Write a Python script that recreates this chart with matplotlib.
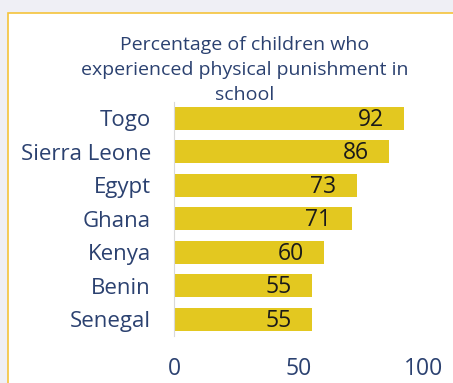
import matplotlib.pyplot as plt
from matplotlib.patches import Rectangle

countries = ["Togo", "Sierra Leone", "Egypt", "Ghana", "Kenya", "Benin", "Senegal"]
percent = [92, 86, 73, 71, 60, 55, 55]
ticks = [0, 50, 100]
title = "Percentage of children who\nexperienced physical punishment in\nschool"

navy = "#2b4170"
bar_color = "#e3c820"

plt.rcParams['font.family'] = ['Open Sans', 'DejaVu Sans']

fig = plt.figure(figsize=(4.53, 3.83), dpi=100)
fig.patch.set_facecolor("#efeff5")

# white card with a thin amber border, kept behind the axes
fig.add_artist(Rectangle((8 / 453, -0.1), 1.2, (383 - 13) / 383 + 0.1,
                         transform=fig.transFigure, facecolor="white",
                         edgecolor="#f5c33b", linewidth=1.2, zorder=-1))

ax = fig.add_axes([174 / 453, 47 / 383, 250 / 453, 234 / 383])
ax.set_facecolor("none")
y = list(range(len(countries)))
bars = ax.barh(y, percent, height=0.69, color=bar_color)
ax.set_xlim(0, 100)
ax.set_ylim(len(countries) - 0.5, -0.49)

for b, v in zip(bars, percent):
    ax.text(v - 8, b.get_y() + b.get_height() / 2 + 0.04, str(v),
            ha="right", va="center", fontsize=16.5, color="#1a1a1a")

ax.set_yticks(y)
ax.set_yticklabels(countries, fontsize=16, color=navy)
ax.set_xticks(ticks)
ax.set_xticklabels([str(t) for t in ticks], fontsize=16.5, color=navy)
ax.tick_params(axis="both", length=0)
ax.tick_params(axis="y", pad=16.5)
ax.tick_params(axis="x", pad=15)

for side in ["top", "right", "bottom"]:
    ax.spines[side].set_visible(False)
ax.spines["left"].set_color("#d9d9d9")

fig.text(245 / 453, 1 - 70 / 383, title, ha="center", va="center",
         fontsize=14, color=navy, linespacing=1.52)

fig.savefig("out.png", dpi=100)
